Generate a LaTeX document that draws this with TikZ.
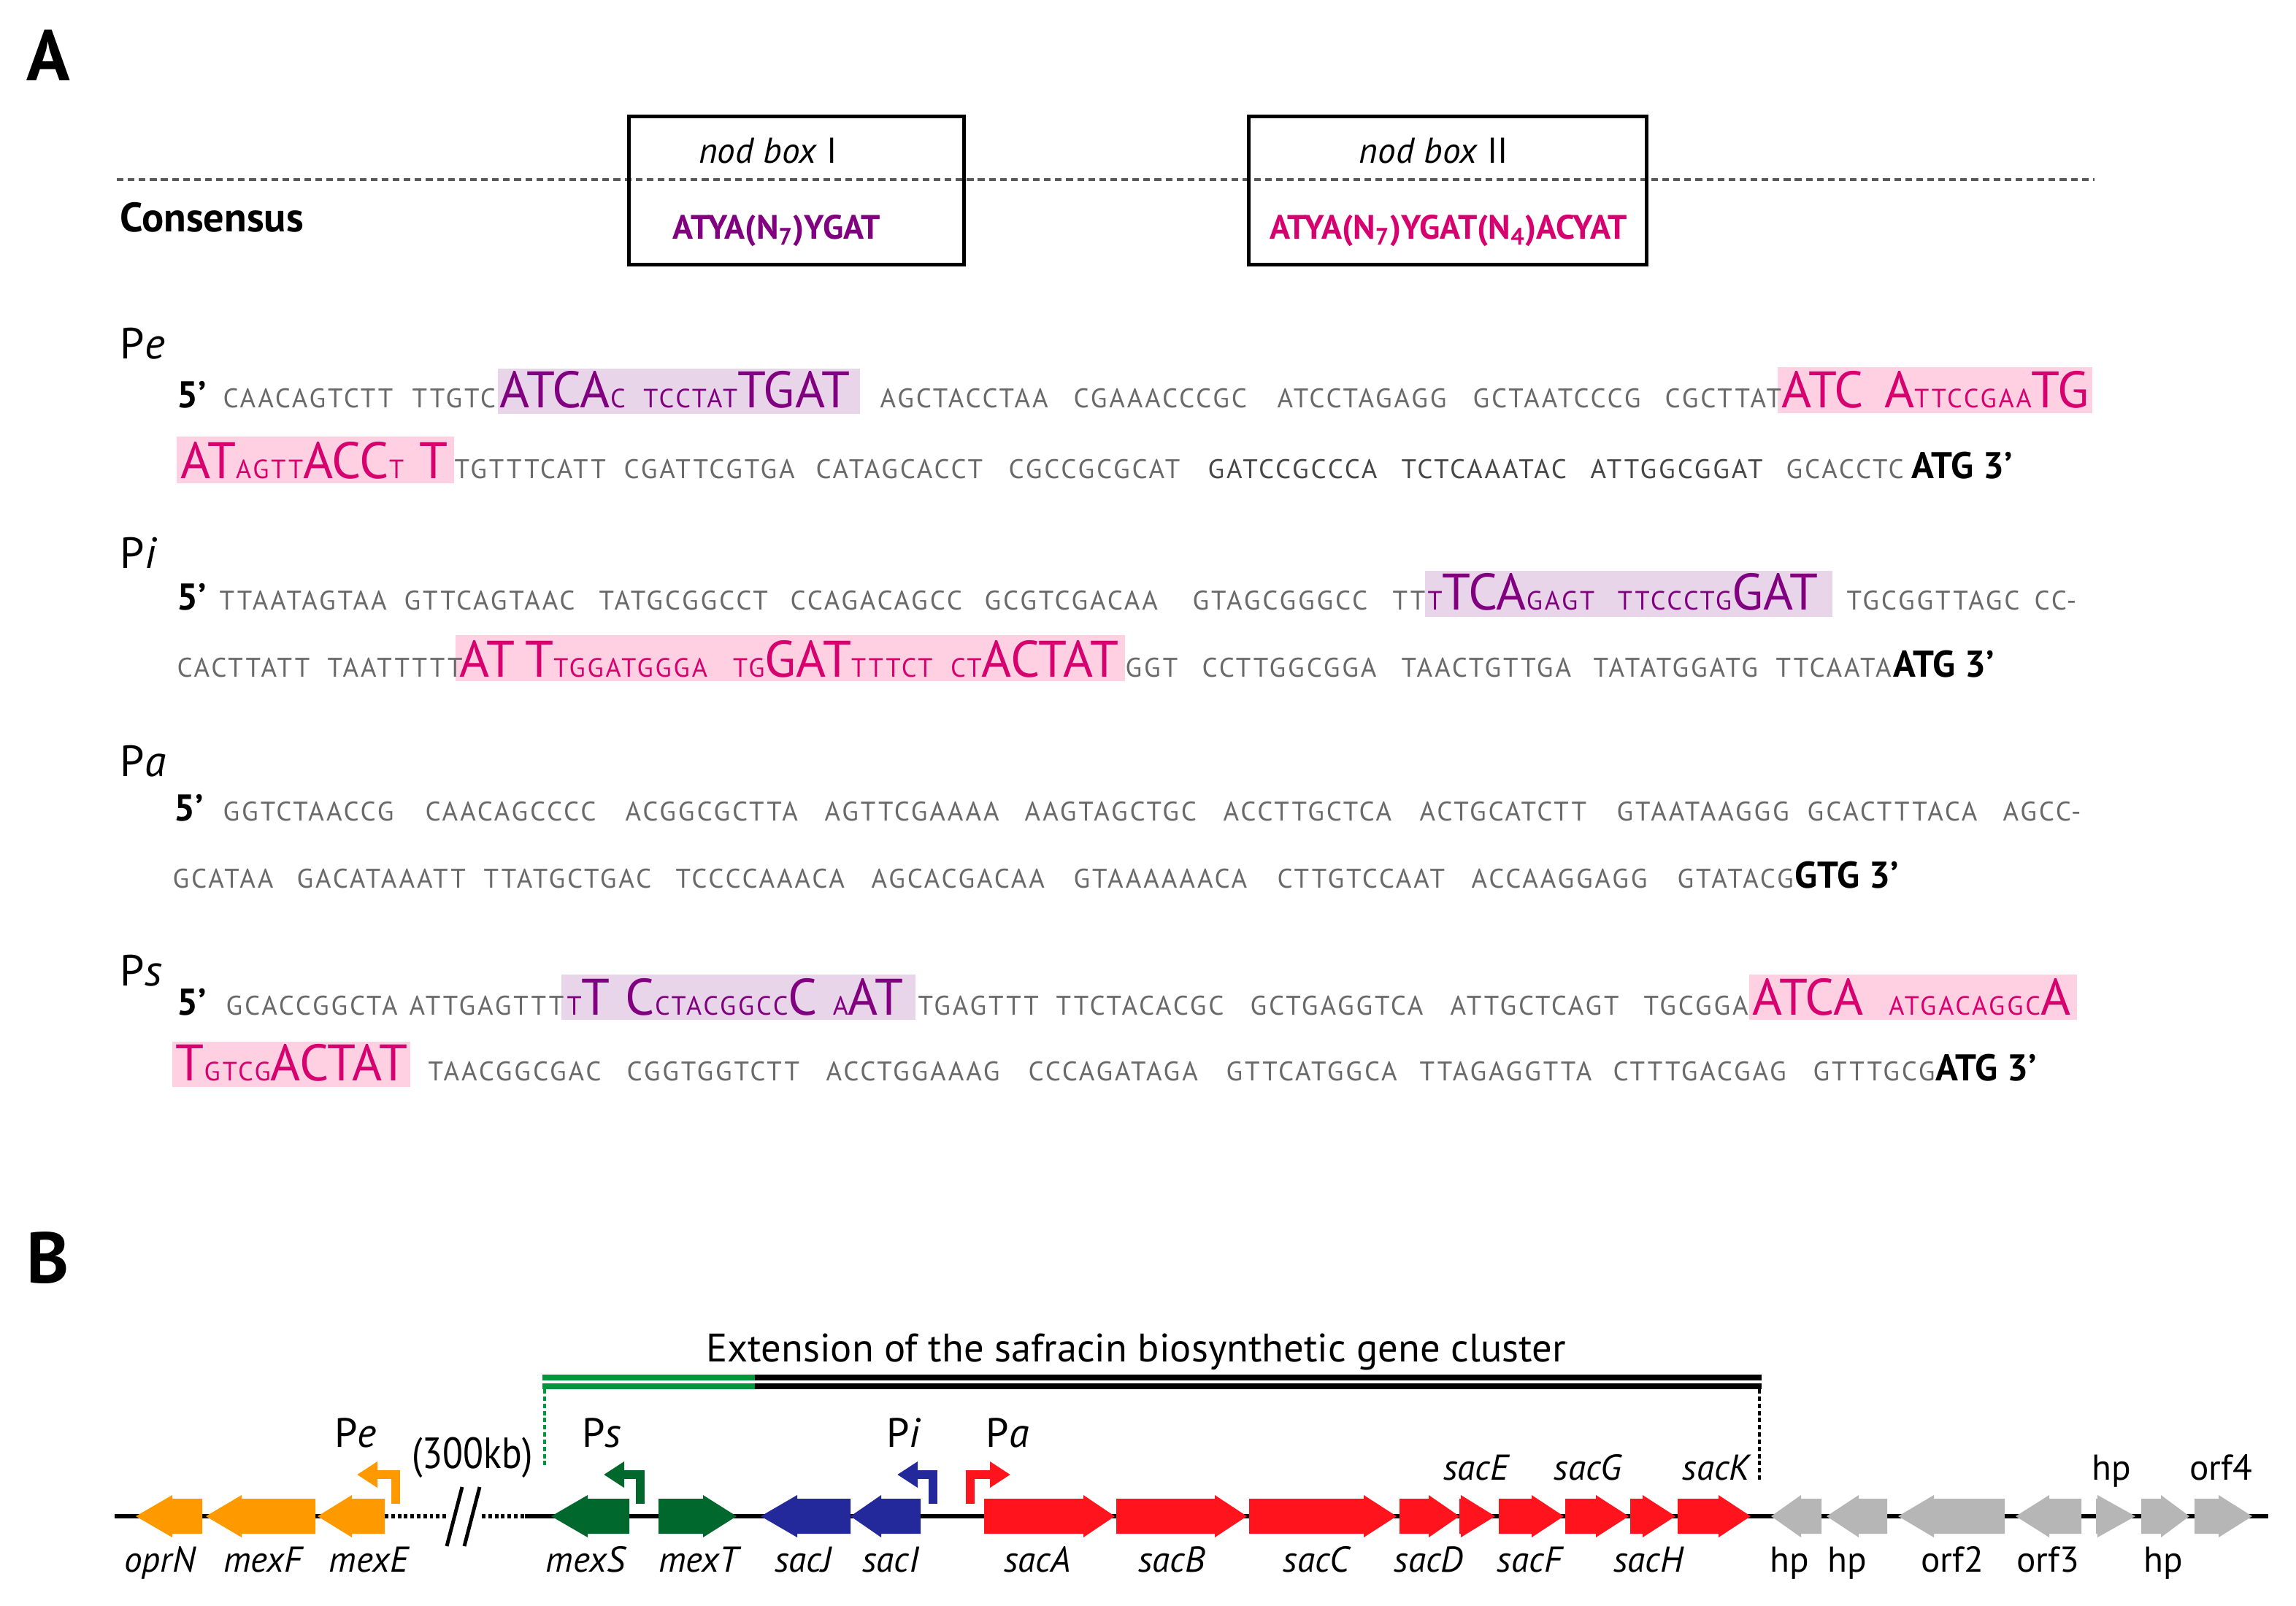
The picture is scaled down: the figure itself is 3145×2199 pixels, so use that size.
\documentclass[tikz,border=0pt]{standalone}
\usepackage{fontspec}
\setmainfont{PT Sans}
\newfontfamily\seqf[LetterSpace=8]{PT Sans}
\newfontfamily\motf{PT Sans}
\usetikzlibrary{arrows.meta}
\definecolor{seqgray}{RGB}{105,105,105}
\definecolor{seqdark}{RGB}{70,70,70}
\definecolor{motpurple}{RGB}{128,0,128}
\definecolor{motmag}{RGB}{214,0,110}
\definecolor{boxpurple}{RGB}{233,213,233}
\definecolor{boxpink}{RGB}{255,208,226}
\definecolor{geneorange}{RGB}{255,153,0}
\definecolor{genegreen}{RGB}{0,104,44}
\definecolor{geneblue}{RGB}{35,40,155}
\definecolor{genered}{RGB}{255,20,30}
\definecolor{genegray}{RGB}{182,182,182}
\definecolor{extgreen}{RGB}{0,150,60}
% big and small letters of the boxes
\newcommand\BG[1]{{\motf\fontsize{20}{22}\selectfont #1}}
\newcommand\SM[1]{{\seqf\fontsize{10.3}{12}\selectfont #1}}
% genes: left end, head base, tip, colour
\newcommand\gener[4]{\fill[#4] (#1,2053) -- (#2,2053) -- (#2,2048) -- (#3,2077) -- (#2,2106) -- (#2,2101) -- (#1,2101) -- cycle;}
% genes: tip, head base, right end, colour
\newcommand\genel[4]{\fill[#4] (#1,2077) -- (#2,2048) -- (#2,2053) -- (#3,2053) -- (#3,2101) -- (#2,2101) -- (#2,2106) -- cycle;}
\begin{document}
\begin{tikzpicture}[x=0.01cm, y=-0.01cm,
  seq/.style={anchor=base west, inner sep=0pt, text=seqgray, font=\seqf\fontsize{10.5}{12}\selectfont},
  seqd/.style={seq, text=seqdark},
  motif/.style={anchor=base west, inner sep=0pt, text=motpurple},
  motifpk/.style={motif, text=motmag},
  endlab/.style={anchor=base west, inner sep=0pt, font=\bfseries\fontsize{14.5}{16}\selectfont},
  prolab/.style={anchor=base west, inner sep=0pt, font=\fontsize{17}{19}\selectfont},
  panel/.style={anchor=base west, inner sep=0pt, font=\bfseries\fontsize{28}{30}\selectfont},
  nodbox/.style={draw, line width=1.4pt, minimum height=2.03cm},
  genelab/.style={anchor=base, inner sep=0pt, font=\itshape\fontsize{14}{16}\selectfont},
  orflab/.style={anchor=base, inner sep=0pt, font=\fontsize{14}{16}\selectfont},
  promlab/.style={anchor=base, font=\fontsize{16}{18}\selectfont},
  promo/.style={line width=3.4pt, -{Triangle[length=0.28cm,width=0.34cm]}},
  axis/.style={line width=1.5pt},
  dotline/.style={line width=1.3pt, dash pattern=on 1.7pt off 1.1pt},
]
\fill[white] (0,0) rectangle (3145,2199);
\useasboundingbox (0,0) rectangle (3145,2199);

%% panel A
\node[panel] (pana) at (36,110) {A};
\draw[color=black!65, line width=1pt, dash pattern=on 2.6pt off 1.7pt] (160,246) -- (2869,246);
\node[nodbox, minimum width=4.58cm] (box1) at (1091,261) {};
\node[nodbox, minimum width=5.44cm] (box2) at (1983,261) {};
\node[anchor=base, font=\fontsize{14}{16}\selectfont] (nb1) at (1052,223) {\textit{nod box} I};
\node[anchor=base, font=\fontsize{14}{16}\selectfont] (nb2) at (1964,223) {\textit{nod box} II};
\node[anchor=base west, inner sep=0pt, font=\bfseries\fontsize{16}{18}\selectfont] (cons) at (164,317) {Consensus};
\node[anchor=base, text=motpurple, font=\bfseries\fontsize{13.2}{15}\selectfont] (cs1) at (1064,327) {ATYA(N\textsubscript{7})YGAT};
\node[anchor=base, text=motmag, font=\bfseries\fontsize{13.2}{15}\selectfont] (cs2) at (1984,327) {ATYA(N\textsubscript{7})YGAT(N\textsubscript{4})ACYAT};

% Pe
\node[prolab] (lpe) at (164,491) {P\textit{e}};
\fill[boxpurple] (682,505) rectangle (1178,567);
\fill[boxpink] (2435,503) rectangle (2866,566);
\fill[boxpink] (242,598) rectangle (622,662);
\node[endlab] (pe5) at (242,558) {5’};
\foreach \x/\s [count=\i] in {305/CAACAGTCTT, 564/TTGTC, 1205/AGCTACCTAA, 1470/CGAAACCCGC, 1749/ATCCTAGAGG, 2017/GCTAATCCCG, 2280/CGCTTAT}
  \node[seq] (pea\i) at (\x,558) {\s};
\node[motif] (pem1) at (684,558) {\BG{ATCA}\SM{C}\hspace{7pt}\SM{TCCTAT}\BG{TGAT}};
\node[motifpk] (pem2) at (2440,558) {\BG{ATC}\hspace{8pt}\BG{A}\SM{TTCCGAA}\BG{TG}};
\node[motifpk] (pem3) at (247,655) {\BG{AT}\SM{AGTT}\BG{ACC}\SM{T}\hspace{6pt}\BG{T}};
\foreach \x/\s [count=\i] in {622/TGTTTCATT, 854/CGATTCGTGA, 1117/CATAGCACCT, 1381/CGCCGCGCAT, 2446/GCACCTC}
  \node[seq] (peb\i) at (\x,655) {\s};
\foreach \x/\s [count=\i] in {1654/GATCCGCCCA, 1919/TCTCAAATAC, 2178/ATTGGCGGAT}
  \node[seqd] (pec\i) at (\x,655) {\s};
\node[endlab] (pe3) at (2618,655) {ATG 3’};

% Pi
\node[prolab] (lpi) at (164,778) {P\textit{i}};
\fill[boxpurple] (1952,782) rectangle (2510,845);
\fill[boxpink] (624,870) rectangle (1541,933);
\node[endlab] (pi5) at (242,835) {5’};
\foreach \x/\s [count=\i] in {300/TTAATAGTAA, 553/GTTCAGTAAC, 820/TATGCGGCCT, 1082/CCAGACAGCC, 1348/GCGTCGACAA, 1633/GTAGCGGGCC, 1907/TT, 2529/TGCGGTTAGC, 2786/CC-}
  \node[seq] (pia\i) at (\x,835) {\s};
\node[motif] (pim1) at (1955,835) {\SM{T}\BG{TCA}\SM{GAGT}\hspace{9pt}\SM{TTCCCTG}\BG{GAT}};
\node[motifpk] (pim2) at (629,927) {\BG{AT}\hspace{4pt}\BG{T}\SM{TGGATGGGA}\hspace{10pt}\SM{TG}\BG{GAT}\SM{TTTCT}\hspace{7pt}\SM{CT}\BG{ACTAT}};
\foreach \x/\s [count=\i] in {242/CACTTATT, 448/TAATTTTT, 1541/GGT, 1646/CCTTGGCGGA, 1919/TAACTGTTGA, 2182/TATATGGATG, 2432/TTCAATA}
  \node[seq] (pib\i) at (\x,927) {\s};
\node[endlab] (pi3) at (2593,927) {ATG 3’};

% Pa
\node[prolab] (lpa) at (164,1063) {P\textit{a}};
\node[endlab] (pa5) at (238,1124) {5’};
\foreach \x/\s [count=\i] in {305/GGTCTAACCG, 582/CAACAGCCCC, 856/ACGGCGCTTA, 1129/AGTTCGAAAA, 1403/AAGTAGCTGC, 1675/ACCTTGCTCA, 1944/ACTGCATCTT, 2214/GTAATAAGGG, 2475/GCACTTTACA, 2743/AGCC-}
  \node[seq] (paa\i) at (\x,1124) {\s};
\foreach \x/\s [count=\i] in {236/GCATAA, 406/GACATAAATT, 662/TTATGCTGAC, 925/TCCCCAAACA, 1193/AGCACGACAA, 1470/GTAAAAAACA, 1749/CTTGTCCAAT, 2015/ACCAAGGAGG, 2297/GTATACG}
  \node[seq] (pab\i) at (\x,1216) {\s};
\node[endlab] (pa3) at (2458,1216) {GTG 3’};

% Ps
\node[prolab] (lps) at (164,1350) {P\textit{s}};
\fill[boxpurple] (769,1335) rectangle (1254,1397);
\fill[boxpink] (2396,1335) rectangle (2845,1397);
\fill[boxpink] (236,1427) rectangle (562,1489);
\node[endlab] (ps5) at (242,1390) {5’};
\foreach \x/\s [count=\i] in {309/GCACCGGCTA, 560/ATTGAGTTT, 1257/TGAGTTT, 1446/TTCTACACGC, 1712/GCTGAGGTCA, 1986/ATTGCTCAGT, 2251/TGCGGA}
  \node[seq] (psa\i) at (\x,1390) {\s};
\node[motif] (psm1) at (776,1390) {\SM{T}\BG{T}\hspace{6pt}\BG{C}\SM{CTACGGCC}\BG{C}\hspace{6pt}\SM{A}\BG{AT}};
\node[motifpk] (psm2) at (2400,1390) {\BG{ATCA}\hspace{10pt}\SM{ATGACAGGC}\BG{A}};
\node[motifpk] (psm3) at (240,1480) {\BG{T}\SM{GTCG}\BG{ACTAT}};
\foreach \x/\s [count=\i] in {586/TAACGGCGAC, 858/CGGTGGTCTT, 1131/ACCTGGAAAG, 1408/CCCAGATAGA, 1679/GTTCATGGCA, 1944/TTAGAGGTTA, 2209/CTTTGACGAG, 2483/GTTTGCG}
  \node[seq] (psb\i) at (\x,1480) {\s};
\node[endlab] (ps3) at (2651,1480) {ATG 3’};

%% panel B
\node[panel] (panb) at (36,1757) {B};
\node[anchor=base, font=\fontsize{15.5}{17}\selectfont] (title) at (1556,1865) {Extension of the safracin biosynthetic gene cluster};
\fill[extgreen] (743,1883) rectangle (1034,1891);
\fill[extgreen] (743,1895) rectangle (1034,1903);
\fill[black] (1034,1883) rectangle (2413,1891);
\fill[black] (1034,1895) rectangle (2413,1903);
\coordinate (extl) at (746,1903);
\coordinate (extlb) at (746,2010);
\coordinate (extr) at (2410,1903);
\coordinate (extrb) at (2410,2028);
\draw[dotline, extgreen] (extl) -- (extlb);
\draw[dotline] (extr) -- (extrb);

% backbone
\draw[axis] (157,2077) -- (527,2077);
\draw[axis, dash pattern=on 1.4pt off 1.1pt] (527,2077) -- (612,2077);
\draw[axis, dash pattern=on 1.4pt off 1.1pt] (660,2077) -- (719,2077);
\draw[axis] (719,2077) -- (3107,2077);
\draw[line width=1.4pt] (612,2118) -- (633,2037);
\draw[line width=1.4pt] (636,2118) -- (657,2037);
\node[font=\fontsize{17}{19}\selectfont] (gap) at (647,1997) {\scalebox{0.86}[1]{(300kb)}};

% genes
\genel{186}{236}{277}{geneorange}
\genel{282}{331}{432}{geneorange}
\genel{435}{482}{527}{geneorange}
\genel{755}{805}{862}{genegreen}
\gener{902}{963}{1009}{genegreen}
\genel{1042}{1092}{1165}{geneblue}
\genel{1165}{1207}{1261}{geneblue}
\gener{1348}{1484}{1527}{genered}
\gener{1529}{1664}{1708}{genered}
\gener{1711}{1868}{1913}{genered}
\gener{1917}{1957}{1999}{genered}
\gener{1999}{2001}{2048}{genered}
\gener{2053}{2098}{2142}{genered}
\gener{2144}{2186}{2231}{genered}
\gener{2233}{2250}{2295}{genered}
\gener{2298}{2354}{2398}{genered}
\genel{2426}{2467}{2495}{genegray}
\genel{2502}{2546}{2585}{genegray}
\genel{2600}{2649}{2746}{genegray}
\genel{2761}{2807}{2851}{genegray}
\gener{2871}{2873}{2925}{genegray}
\gener{2933}{2960}{2999}{genegray}
\gener{3006}{3039}{3085}{genegray}

% promoters
\draw[promo, geneorange] (542,2060) |- (489,2020);
\draw[promo, genegreen] (877,2060) |- (827,2020);
\draw[promo, geneblue] (1278,2060) |- (1229,2020);
\draw[promo, genered] (1329,2060) |- (1384,2020);
\node[promlab] (bpe) at (487,1982) {P\textit{e}};
\node[promlab] (bps) at (824,1982) {P\textit{s}};
\node[promlab] (bpi) at (1238,1982) {P\textit{i}};
\node[promlab] (bpa) at (1380,1982) {P\textit{a}};

% gene names
\foreach \x/\g [count=\i] in {219/oprN, 360/mexF, 505/mexE, 802/mexS, 957/mexT, 1100/sacJ, 1220/sacI, 1421/sacA, 1605/sacB, 1803/sacC, 1957/sacD, 2095/sacF, 2258/sacH}
  \node[genelab] (gb\i) at (\x,2153) {\g};
\foreach \x/\g [count=\i] in {2022/sacE, 2175/sacG, 2351/sacK}
  \node[genelab] (gt\i) at (\x,2027) {\g};
\foreach \x/\g [count=\i] in {2451/hp, 2530/hp, 2674/orf2, 2805/orf3, 2963/hp}
  \node[orflab] (ob\i) at (\x,2153) {\g};
\foreach \x/\g [count=\i] in {2892/hp, 3042/orf4}
  \node[orflab] (ot\i) at (\x,2027) {\g};
\end{tikzpicture}
\end{document}
